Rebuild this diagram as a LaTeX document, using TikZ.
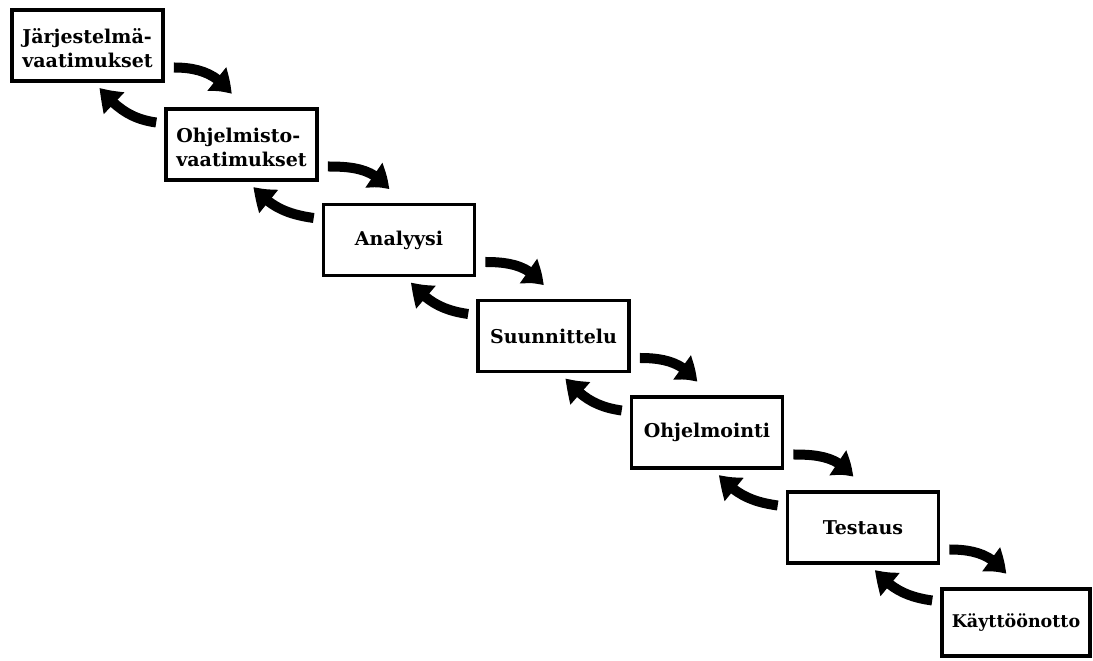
\documentclass[tikz,border=0pt]{standalone}
\usepackage{fontspec}
\setmainfont{DejaVu Serif}
\usetikzlibrary{arrows.meta,bending}
% two-line label, set a little below the middle of its box
\newcommand{\twolines}[2]{\raisebox{0pt}[\dimexpr\height+10pt\relax]{\begin{tabular}{@{}l@{}}#1\\#2\end{tabular}}}
\begin{document}
\begin{tikzpicture}[x=1pt,y=1pt,
  phase/.style={draw=black, line width=3.6pt, fill=white, minimum width=151pt,
    minimum height=71pt, inner sep=0pt, align=left,
    font=\fontsize{19}{24}\selectfont\bfseries},
  flow/.style={line width=10pt, line cap=butt,
    -{Triangle[length=22pt,width=28pt,bend]}}]
\useasboundingbox (0,0) rectangle (1093,661);
% phases of the process, one step down and to the right each
\node[phase] (b1) at (87.5,615.5) {\twolines{Järjestelmä-}{vaatimukset}};
\node[phase] (b2) at (241.5,516.5) {\twolines{Ohjelmisto-}{vaatimukset}};
\node[phase] (b3) at (399,421) {Analyysi};
\node[phase] (b4) at (553.5,325) {Suunnittelu};
\node[phase] (b5) at (707,228.5) {Ohjelmointi};
\node[phase] (b6) at (863,133.5) {Testaus};
\node[phase, minimum width=148pt, minimum height=67pt,
  font=\fontsize{17.5}{24}\selectfont\bfseries] (b7) at (1016,38.5) {Käyttöönotto};
% forward arrows and feedback arrows between consecutive phases
\foreach \a/\b in {b1/b2,b2/b3,b3/b4,b4/b5,b5/b6,b6/b7}{
  \draw[flow] ([shift={(9,-22)}]\a.east) to[out=0,in=125] ([shift={(-10,13)}]\b.north);
  \draw[flow] ([shift={(-8,22)}]\b.west) to[out=172,in=-50] ([shift={(12,-5)}]\a.south);
}
\end{tikzpicture}
\end{document}
